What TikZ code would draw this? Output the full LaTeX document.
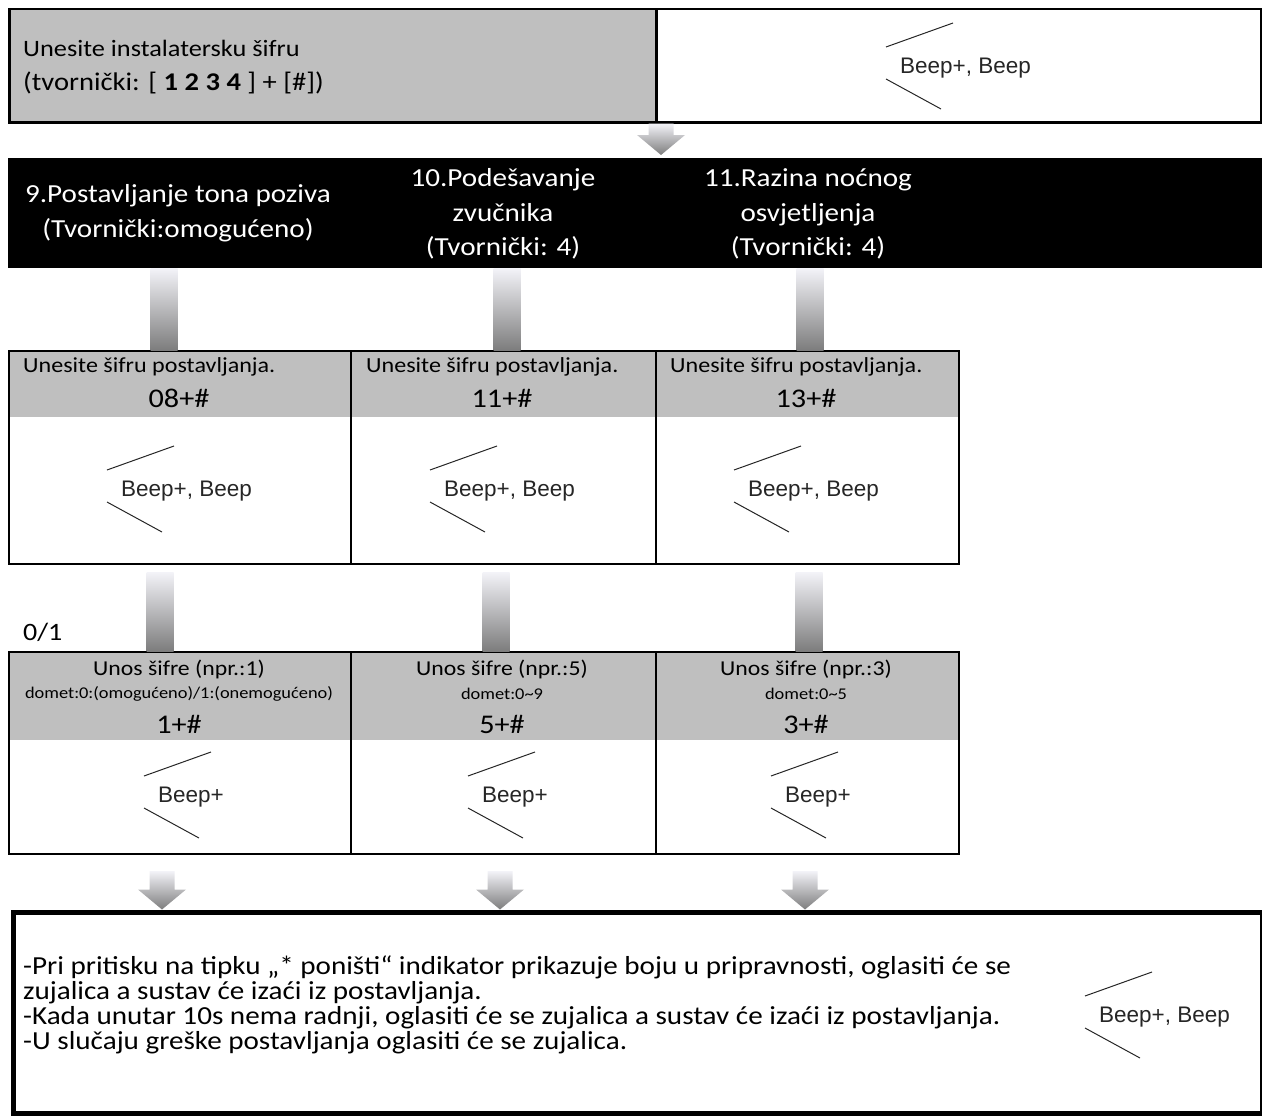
\documentclass[tikz,border=0pt]{standalone}
\usepackage{fontspec}
\setmainfont{Carlito}[FakeStretch=1.12]
\newfontfamily\arialf{Liberation Sans}
\usetikzlibrary{calc}
\definecolor{hdrgray}{HTML}{BFBFBF}
\definecolor{shlight}{HTML}{F3F3F8}
\definecolor{shdark}{HTML}{7D7D7D}
\newcommand\fs[2]{\fontsize{#1}{#2}\selectfont}
\tikzset{
  cell/.style={draw=black, line width=2pt, anchor=north west, inner sep=0pt},
  band/.style={path picture={\fill[hdrgray] (path picture bounding box.north west) rectangle ([yshift=-#1]path picture bounding box.north east);}},
  beeptxt/.style={font=\arialf\fs{22.5}{26}, text=black!85, inner sep=0pt, anchor=west},
  beepln/.style={draw=black!85, line width=1pt},
  shaftsh/.style={top color=shlight, bottom color=shdark},
  arrowsh/.style={top color=shlight, bottom color=shdark},
  toptxt/.style={font=\fs{23.5}{34}, anchor=west, align=left, inner sep=0pt},
  bartxt/.style={font=\fs{26}{34.5}, text=white, align=center, inner sep=0pt},
  hdrtxt/.style={font=\fs{21.5}{24}, anchor=west, inner sep=0pt},
  codetxt/.style={font=\fs{27}{28}, inner sep=0pt},
  unostxt/.style={font=\fs{21.2}{24}, inner sep=0pt},
  domettxt/.style={font=\fs{16.4}{18}, inner sep=0pt},
  notetxt/.style={font=\fs{26}{25}, align=left, anchor=west, inner sep=0pt},
}
% beep symbol: name, position, text
\newcommand\beepsym[3]{%
  \node[beeptxt] (#1) at (#2) {#3};
  \draw[beepln] ([shift={(-14pt,21pt)}]#1.west) -- ([shift={(53pt,45pt)}]#1.west);
  \draw[beepln] ([shift={(-14pt,-11pt)}]#1.west) -- ([shift={(41pt,-41pt)}]#1.west);
}
% shaft without head: x centre, from, to
\newcommand\shaftbar[3]{%
  \shade[shaftsh] let \p1=(#2), \p2=(#3) in (#1pt-13.5pt,\y1) rectangle (#1pt+13.5pt,\y2);
}
% block arrow with head: x centre, from, tip
\newcommand\fatarrow[3]{%
  \shade[arrowsh] let \p1=(#2), \p2=(#3) in
    (#1pt-12.5pt,\y1) -- (#1pt+12.5pt,\y1) -- (#1pt+12.5pt,\y2+20pt) -- (#1pt+24pt,\y2+20pt)
    -- (#1pt,\y2) -- (#1pt-24pt,\y2+20pt) -- (#1pt-12.5pt,\y2+20pt) -- cycle;
}
\begin{document}
\begin{tikzpicture}[x=1pt,y=-1pt]
\useasboundingbox (0,0) rectangle (1262,1116);

% ---------- top row ----------
\node[cell, line width=2.5pt, fill=hdrgray, minimum width=647pt, minimum height=113pt] (top) at (8,8) {};
\node[cell, line width=2.5pt, minimum width=605pt, minimum height=113pt] (topR) at (655,8) {};
\node[toptxt] (toptext) at (23,67) {Unesite instalatersku šifru\\{\fs{25.5}{34}(tvornički: [ \textbf{1 2 3 4} ] + [\#])}};
\beepsym{beep0}{900,68}{Beep+, Beep}

% ---------- black bar ----------
\node[fill=black, anchor=north west, inner sep=0pt, minimum width=1254pt, minimum height=110pt] (bar) at (8,158) {};
\node[bartxt] (h9) at (178,213) {9.Postavljanje tona poziva\\(Tvornički:omogućeno)};
\node[bartxt] (h10) at (503,214) {10.Podešavanje\\zvučnika\\(Tvornički: 4)};
\node[bartxt] (h11) at (808,214) {11.Razina noćnog\\osvjetljenja\\(Tvornički: 4)};

\fatarrow{661}{top.south}{[yshift=3pt]bar.north}

% ---------- middle row ----------
\node[cell, band=66pt, minimum width=342pt, minimum height=213pt] (m1) at (8,350) {};
\node[cell, band=66pt, minimum width=305pt, minimum height=213pt] (m2) at (350,350) {};
\node[cell, band=66pt, minimum width=303pt, minimum height=213pt] (m3) at (655,350) {};

\node[hdrtxt] (m1a) at (23,367) {Unesite šifru postavljanja.};
\node[hdrtxt] (m2a) at (366,367) {Unesite šifru postavljanja.};
\node[hdrtxt] (m3a) at (670,367) {Unesite šifru postavljanja.};
\node[codetxt] (m1b) at (179,398) {08+\#};
\node[codetxt] (m2b) at (502,398) {11+\#};
\node[codetxt] (m3b) at (806,398) {13+\#};
\beepsym{beep1}{121,491}{Beep+, Beep}
\beepsym{beep2}{444,491}{Beep+, Beep}
\beepsym{beep3}{748,491}{Beep+, Beep}

\shaftbar{164}{bar.south}{m1.north}
\shaftbar{507}{bar.south}{m2.north}
\shaftbar{810}{bar.south}{m3.north}

% ---------- lower row ----------
\node[cell, band=88pt, minimum width=342pt, minimum height=202pt] (n1) at (8,651) {};
\node[cell, band=88pt, minimum width=305pt, minimum height=202pt] (n2) at (350,651) {};
\node[cell, band=88pt, minimum width=303pt, minimum height=202pt] (n3) at (655,651) {};

\node[unostxt] (n1a) at (179,669) {Unos šifre (npr.:1)};
\node[unostxt] (n2a) at (502,669) {Unos šifre (npr.:5)};
\node[unostxt] (n3a) at (806,669) {Unos šifre (npr.:3)};
\node[domettxt] (n1b) at (179,694) {domet:0:(omogućeno)/1:(onemogućeno)};
\node[domettxt] (n2b) at (502,694) {domet:0\textasciitilde 9};
\node[domettxt] (n3b) at (806,694) {domet:0\textasciitilde 5};
\node[codetxt] (n1c) at (179,724) {1+\#};
\node[codetxt] (n2c) at (502,724) {5+\#};
\node[codetxt] (n3c) at (806,724) {3+\#};
\beepsym{beep4}{158,797}{Beep+}
\beepsym{beep5}{482,797}{Beep+}
\beepsym{beep6}{785,797}{Beep+}

\node[codetxt, anchor=west, font=\fs{25}{28}] (zeroone) at (23,632) {0/1};

\shaftbar{160}{[yshift=-7pt]m1.south}{n1.north}
\shaftbar{496}{[yshift=-7pt]m2.south}{n2.north}
\shaftbar{809}{[yshift=-7pt]m3.south}{n3.north}

% ---------- final box ----------
\node[draw=black, line width=5pt, anchor=north west, inner sep=0pt, minimum width=1249pt, minimum height=201pt] (final) at (10.5,909.5) {};
\node[notetxt] (note) at (23,1005) {-Pri pritisku na tipku „* poništi“ indikator prikazuje boju u pripravnosti, oglasiti će se\\zujalica a sustav će izaći iz postavljanja.\\-Kada unutar 10s nema radnji, oglasiti će se zujalica a sustav će izaći iz postavljanja.\\-U slučaju greške postavljanja oglasiti će se zujalica.};
\beepsym{beep7}{1099,1017}{Beep+, Beep}

\fatarrow{162}{[yshift=-16pt]n1.south}{final.north}
\fatarrow{500}{[yshift=-16pt]n2.south}{final.north}
\fatarrow{805}{[yshift=-16pt]n3.south}{final.north}
\end{tikzpicture}
\end{document}
